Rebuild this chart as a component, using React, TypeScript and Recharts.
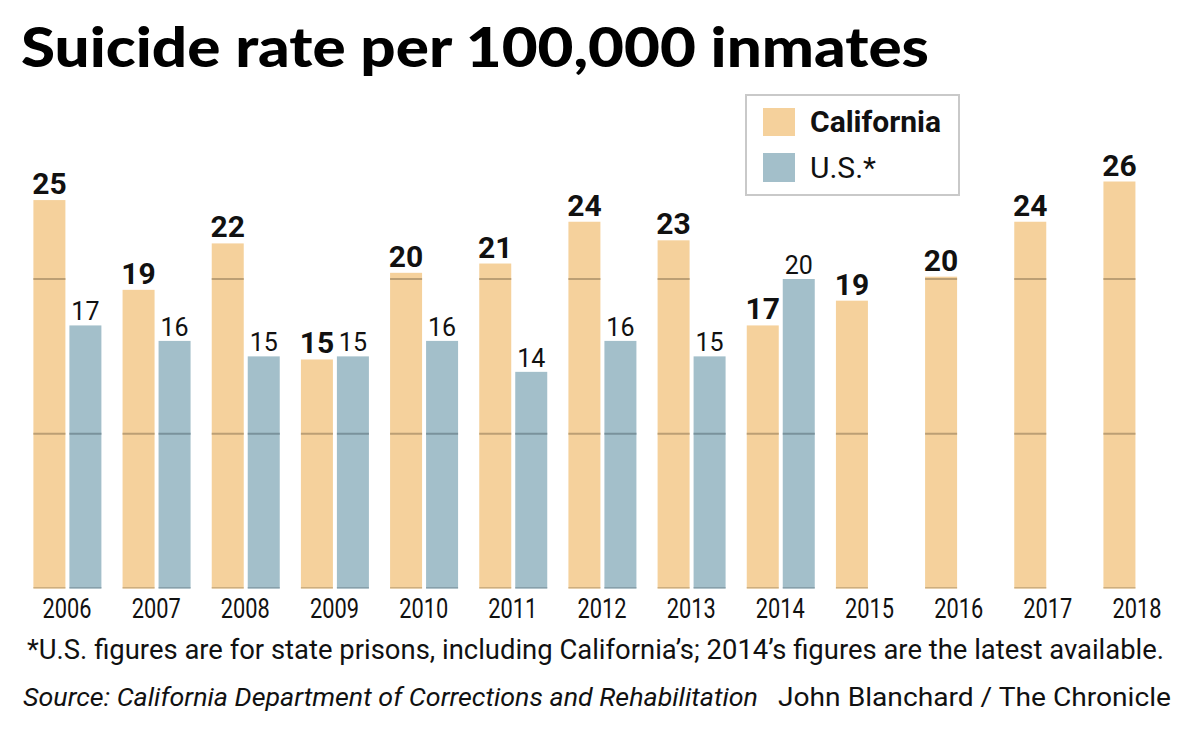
import React from 'react';
import { BarChart, Bar, XAxis, YAxis, LabelList } from 'recharts';

const years = ['2006', '2007', '2008', '2009', '2010', '2011', '2012', '2013', '2014', '2015', '2016', '2017', '2018'];
const californiaRates = [25.1, 19.3, 22.3, 14.8, 20.4, 21.0, 23.7, 22.5, 17.0, 18.6, 20.15, 23.7, 26.3];
const usRates: (number | null)[] = [17.0, 16.0, 15.0, 15.0, 16.0, 14.0, 16.0, 15.0, 20.0, null, null, null, null];
const gridValues = [10, 20];

const CA_FILL = '#f5d19c';
const US_FILL = '#a3bfca';
const CA_LINE = '#bc9f74';
const US_LINE = '#7a929c';
const FONT = 'Roboto, "Open Sans", sans-serif';
const INK = '#111';

const chartData = years.map((year, i) => ({
  year,
  california: californiaRates[i],
  us: usRates[i],
}));

// bars carry their own grid marks: the lines only show inside the bars
const makeBarShape = (key: 'california' | 'us', fill: string, line: string) => (props: any) => {
  const { x, y, width, height, payload } = props;
  const v = payload?.[key];
  if (v == null || !height) return null;
  const bottom = y + height;
  return (
    <g>
      <rect x={x} y={y} width={width} height={height} fill={fill} />
      {gridValues.filter(g => g < v).map(g => {
        const ly = bottom - (height * g) / v;
        return <rect key={g} x={x} y={ly - 1} width={width} height={2} fill={line} />;
      })}
      <rect x={x} y={bottom - 1.5} width={width} height={1.5} fill={line} opacity={0.7} />
    </g>
  );
};

const YearTick = ({ x, y, payload }: any) => (
  <text x={x} y={y + 23.5} textAnchor="middle" fontFamily={FONT} fontSize={28} fill={INK}
    textLength={49} lengthAdjust="spacingAndGlyphs">
    {payload.value}
  </text>
);

const roundLabel = (v: any) => (v == null ? '' : String(Math.round(Number(v))));

export default function App() {
  return (
    <div style={{ position: 'absolute', left: 0, top: 0, width: 1200, height: 744, background: '#fff', overflow: 'hidden' }}>
      <BarChart
        width={1200}
        height={744}
        data={chartData}
        margin={{ top: 124.25, right: 18.4, left: 22.4, bottom: 125.5 }}
        barSize={32}
        barGap={4}
        style={{ position: 'absolute', left: 0, top: 0 }}
      >
        <XAxis dataKey="year" interval={0} tickLine={false} axisLine={false} height={30} tickMargin={0} tick={<YearTick />} />
        <YAxis hide domain={[0, 30]} />
        <Bar dataKey="california" fill={CA_FILL} shape={makeBarShape('california', CA_FILL, CA_LINE)} isAnimationActive={false}>
          <LabelList dataKey="california" position="top" offset={6} formatter={roundLabel}
            style={{ fontFamily: FONT, fontSize: 30, fontWeight: 700, fill: INK }} />
        </Bar>
        <Bar dataKey="us" fill={US_FILL} shape={makeBarShape('us', US_FILL, US_LINE)} isAnimationActive={false}>
          <LabelList dataKey="us" position="top" offset={5} formatter={roundLabel}
            style={{ fontFamily: FONT, fontSize: 25, fontWeight: 400, fill: INK }} />
        </Bar>
      </BarChart>

      {/* legend box */}
      <div style={{
        position: 'absolute', left: 745, top: 94, width: 211, height: 98,
        border: '2px solid #c9c9c9', fontFamily: FONT, color: INK,
      }}>
        <div style={{ position: 'absolute', left: 16, top: 12, width: 32, height: 28, background: CA_FILL }} />
        <div style={{ position: 'absolute', left: 63, top: 8, fontSize: 30, fontWeight: 700, lineHeight: '36px' }}>California</div>
        <div style={{ position: 'absolute', left: 16, top: 57, width: 32, height: 29, background: US_FILL }} />
        <div style={{ position: 'absolute', left: 63, top: 54, fontSize: 30, fontWeight: 400, lineHeight: '36px' }}>U.S.*</div>
      </div>

      {/* title and notes */}
      <svg width={1200} height={744} style={{ position: 'absolute', left: 0, top: 0, pointerEvents: 'none' }}>
        <text x={21} y={67} fontFamily='Lato, Roboto, sans-serif' fontWeight={900} fontSize={55} fill="#000"
          textLength={908} lengthAdjust="spacingAndGlyphs">
          Suicide rate per 100,000 inmates
        </text>
        <text x={27} y={659} fontFamily={FONT} fontSize={27} fill={INK} textLength={1137} lengthAdjust="spacingAndGlyphs">
          *U.S. figures are for state prisons, including California’s; 2014’s figures are the latest available.
        </text>
        <text x={23} y={706} fontFamily={FONT} fontSize={26} fontStyle="italic" fill={INK} textLength={735} lengthAdjust="spacingAndGlyphs">
          Source: California Department of Corrections and Rehabilitation
        </text>
        <text x={778} y={706} fontFamily={FONT} fontSize={26} fill={INK} textLength={393} lengthAdjust="spacingAndGlyphs">
          John Blanchard / The Chronicle
        </text>
      </svg>
    </div>
  );
}
